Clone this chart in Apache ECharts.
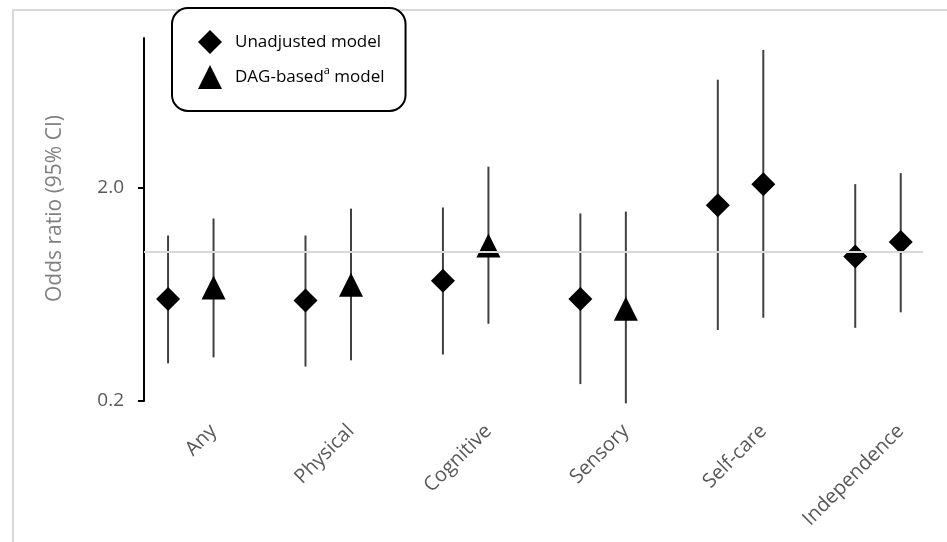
<!DOCTYPE html>
<html>
<head>
<meta charset="utf-8">
<script src="https://cdn.jsdelivr.net/npm/echarts@6/dist/echarts.min.js"></script>
<style>
html,body{margin:0;padding:0;background:#fff;}
#chart{width:947px;height:542px;}
</style>
</head>
<body>
<div id="chart"></div>
<script>
// ---- data ----
var categories = ['Any', 'Physical', 'Cognitive', 'Sensory', 'Self-care', 'Independence'];
var unadjOR   = [0.60, 0.59, 0.73, 0.60, 1.65, 0.95];
var unadjLow  = [0.30, 0.29, 0.33, 0.24, 0.43, 0.44];
var unadjHigh = [1.19, 1.19, 1.61, 1.51, 6.38, 2.07];
var dagOR     = [0.68, 0.70, 1.07, 0.54, 2.07, 1.11];
var dagLow    = [0.32, 0.31, 0.46, 0.195, 0.49, 0.52];
var dagHigh   = [1.43, 1.59, 2.50, 1.54, 8.79, 2.33];
var yTicks    = [0.2, 2];
var refValue  = 1;

// ---- layout / style constants ----
var DAG_OFFSET = 0.331;
var dagDiamondCats = ['Self-care', 'Independence'];
var FONT = '"Open Sans", "Noto Sans", sans-serif';

function xU(i) { return i + 1; }
function xD(i) { return i + 1 + DAG_OFFSET; }

var unadjPts = categories.map(function (c, i) { return [xU(i), unadjOR[i]]; });
var dagPts = categories.map(function (c, i) {
  var p = { value: [xD(i), dagOR[i]] };
  if (dagDiamondCats.indexOf(c) >= 0) p.symbol = 'diamond';
  return p;
});
var bars = [];
categories.forEach(function (c, i) {
  bars.push([xU(i), unadjLow[i], unadjHigh[i]]);
  bars.push([xD(i), dagLow[i], dagHigh[i]]);
});
var labelPos = categories.map(function (c, i) { return xD(i); });

var chart = echarts.init(document.getElementById('chart'));
chart.setOption({
  animation: false,
  backgroundColor: '#fff',
  graphic: [{
    type: 'rect', silent: true, z: -10,
    shape: { x: 13, y: 10, width: 1200, height: 1000 },
    style: { fill: 'none', stroke: '#d9d9d9', lineWidth: 2 }
  }],
  grid: { left: 144, right: 24, top: 38, bottom: 141 },
  legend: {
    left: 172, top: 8,
    orient: 'vertical',
    data: ['Unadjusted model', 'DAG-based model'],
    itemWidth: 24, itemHeight: 24, itemGap: 11,
    padding: [22, 21, 22, 26],
    borderColor: '#000', borderWidth: 2, borderRadius: 16,
    backgroundColor: '#fff',
    selectedMode: false,
    formatter: function (name) {
      if (name === 'DAG-based model') return '{f|DAG-based}{s|a}{t| model}';
      return '{f|' + name + '}';
    },
    textStyle: {
      color: '#000', fontFamily: FONT, fontSize: 17,
      rich: {
        f: { fontSize: 17, fontFamily: FONT, color: '#000', lineHeight: 24, padding: [0, 0, 0, 8] },
        t: { fontSize: 17, fontFamily: FONT, color: '#000', lineHeight: 24 },
        s: { fontSize: 11, fontFamily: FONT, color: '#000', verticalAlign: 'top', lineHeight: 14 }
      }
    }
  },
  xAxis: {
    type: 'value',
    min: 0.825, max: 6.493,
    axisLine: { show: false },
    axisTick: { show: false },
    splitLine: { show: false },
    axisLabel: {
      customValues: labelPos,
      rotate: 45,
      margin: 27,
      color: '#595959',
      fontFamily: FONT,
      fontSize: 20,
      formatter: function (v) {
        var idx = Math.round(v - 1 - DAG_OFFSET);
        return categories[idx] || '';
      }
    }
  },
  yAxis: {
    type: 'log',
    logBase: 10,
    min: 0.2, max: 10,
    name: 'Odds ratio (95% CI)',
    nameLocation: 'middle',
    nameGap: 78,
    nameTextStyle: { color: '#808080', fontFamily: FONT, fontSize: 21, padding: [0, 0, 0, 22] },
    axisLine: { show: true, lineStyle: { color: '#000', width: 2 } },
    axisTick: { show: true, length: 6, customValues: yTicks, lineStyle: { color: '#000', width: 2 } },
    splitLine: { show: false },
    axisLabel: {
      customValues: yTicks,
      margin: 20,
      color: '#595959',
      fontFamily: FONT,
      fontSize: 19,
      formatter: function (v) { return Number(v).toFixed(1); }
    }
  },
  series: [
    {
      name: 'CI',
      type: 'custom',
      z: 1,
      silent: true,
      data: bars,
      renderItem: function (params, api) {
        var p1 = api.coord([api.value(0), api.value(1)]);
        var p2 = api.coord([api.value(0), api.value(2)]);
        return {
          type: 'line',
          shape: { x1: p1[0], y1: p1[1], x2: p2[0], y2: p2[1] },
          style: { stroke: '#404040', lineWidth: 2 }
        };
      },
      markLine: {
        silent: true,
        symbol: ['none', 'none'],
        label: { show: false },
        lineStyle: { color: '#d9d9d9', width: 2, type: 'solid' },
        data: [{ yAxis: refValue }]
      }
    },
    {
      name: 'Unadjusted model',
      type: 'scatter',
      z: 3,
      symbol: 'diamond',
      symbolSize: 24,
      itemStyle: { color: '#000', opacity: 1 },
      data: unadjPts
    },
    {
      name: 'DAG-based model',
      type: 'scatter',
      z: 3,
      symbol: 'triangle',
      symbolSize: 24,
      itemStyle: { color: '#000', opacity: 1 },
      data: dagPts
    }
  ]
});
</script>
</body>
</html>
